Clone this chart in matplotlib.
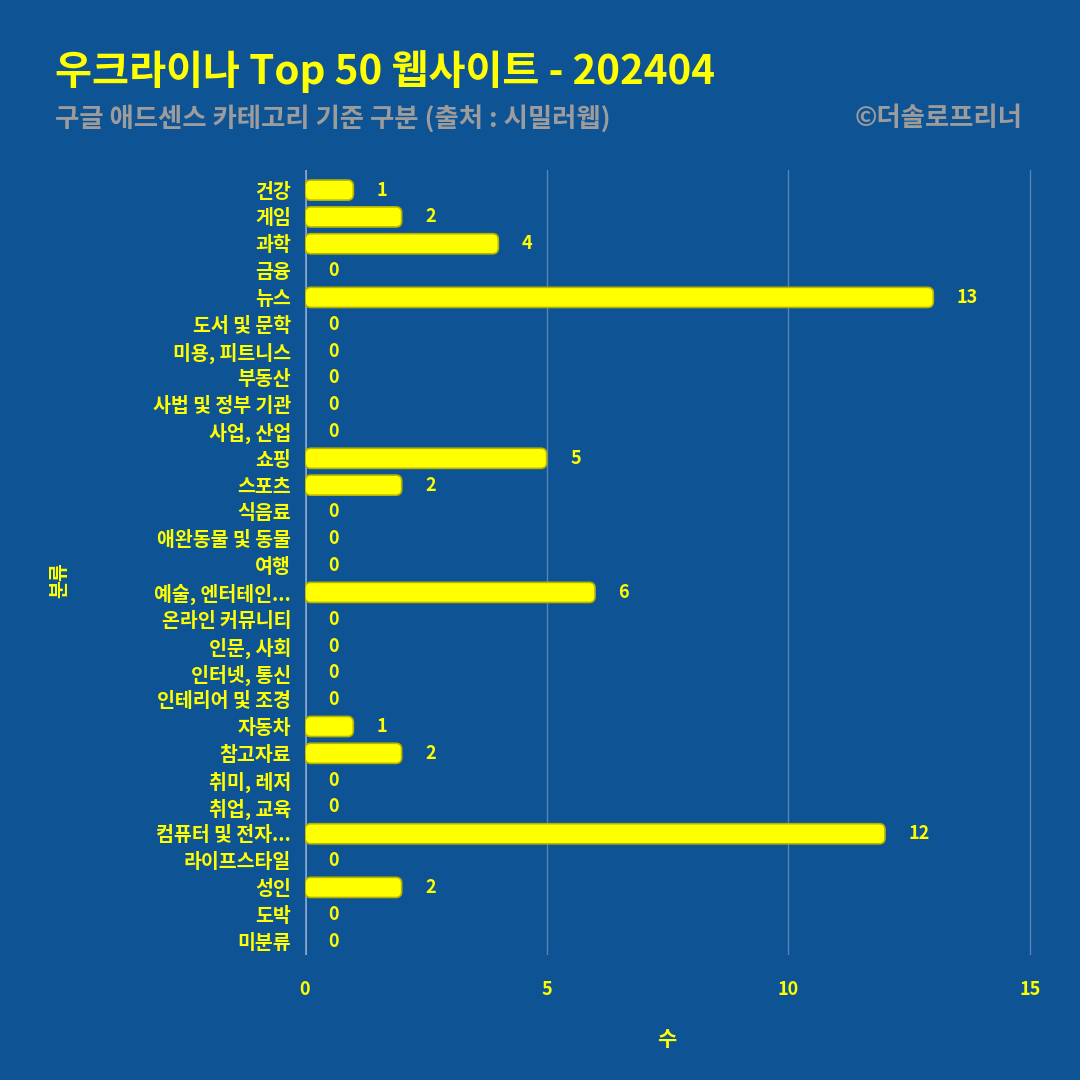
import matplotlib.pyplot as plt
from matplotlib.patches import FancyBboxPatch

plt.rcParams['font.family'] = ['Noto Sans CJK KR', 'DejaVu Sans']

# data
categories = ["건강", "게임", "과학", "금융", "뉴스", "도서 및 문학", "미용, 피트니스",
              "부동산", "사법 및 정부 기관", "사업, 산업", "쇼핑", "스포츠", "식음료",
              "애완동물 및 동물", "여행", "예술, 엔터테인...", "온라인 커뮤니티",
              "인문, 사회", "인터넷, 통신", "인테리어 및 조경", "자동차", "참고자료",
              "취미, 레저", "취업, 교육", "컴퓨터 및 전자...", "라이프스타일", "성인",
              "도박", "미분류"]
counts = [1, 2, 4, 0, 13, 0, 0, 0, 0, 0, 5, 2, 0, 0, 0, 6, 0, 0, 0, 0,
          1, 2, 0, 0, 12, 0, 2, 0, 0]
x_ticks = [0, 5, 10, 15]

bg = "#0e5394"
yellow = "#ffff00"

fig = plt.figure(figsize=(10.8, 10.8), dpi=100, facecolor=bg)
ax = fig.add_axes([305 / 1080, 1 - 955 / 1080, 740 / 1080, 785 / 1080])
ax.set_facecolor(bg)

pos = list(range(len(categories)))
bars = ax.barh(pos, counts, height=0.75, color=yellow, zorder=3)

# swap the plain rectangles for rounded ones
for rect in bars:
    rect.set_visible(False)
    if rect.get_width() <= 0:
        continue
    box = FancyBboxPatch((rect.get_x(), rect.get_y()), rect.get_width(),
                         rect.get_height(),
                         boxstyle="round,pad=0,rounding_size=0.12",
                         mutation_aspect=1.8, facecolor=yellow,
                         edgecolor="#b5b500", linewidth=1.2, zorder=3)
    ax.add_patch(box)

for y, v in zip(pos, counts):
    ax.annotate(str(v), (v, y), xytext=(17, 0), textcoords="offset points",
                ha="left", va="center", color=yellow, fontsize=13,
                fontweight="bold", zorder=4)

ax.set_xlim(0, 15 * 740 / 725)
ax.set_ylim(28.52, -0.75)
ax.set_xticks(x_ticks)
ax.set_yticks(pos)
ax.set_yticklabels(categories)
ax.tick_params(axis="y", length=0, pad=10, labelsize=14, labelcolor=yellow)
ax.tick_params(axis="x", length=0, pad=18, labelsize=13, labelcolor=yellow)
for lab in ax.get_xticklabels() + ax.get_yticklabels():
    lab.set_fontweight("bold")

ax.grid(axis="x", color="#6b8fbd", linewidth=1, alpha=0.8, zorder=0)
ax.axvline(0, color="#9fb4d0", linewidth=2, zorder=1)
for s in ax.spines.values():
    s.set_visible(False)

# axis titles
fig.text(667 / 1080, 1 - 1040 / 1080, "수", color=yellow, fontsize=15,
         fontweight="bold", ha="center", va="center")
fig.text(60 / 1080, 1 - 580 / 1080, "분류", rotation=90, color=yellow,
         fontsize=14, fontweight="bold", ha="center", va="center")

fig.text(55 / 1080, 1 - 72 / 1080, "우크라이나 Top 50 웹사이트 - 202404",
         color=yellow, fontsize=29, fontweight="bold",
         ha="left", va="center")
fig.text(55 / 1080, 1 - 119 / 1080, "구글 애드센스 카테고리 기준 구분 (출처 : 시밀러웹)",
         color="#9c9c9c", fontsize=19, fontweight="bold", ha="left", va="center")
fig.text(1022 / 1080, 1 - 119 / 1080, "©더솔로프리너",
         color="#9c9c9c", fontsize=19, fontweight="bold", ha="right", va="center")

plt.savefig("out.png", dpi=100, facecolor=bg)
